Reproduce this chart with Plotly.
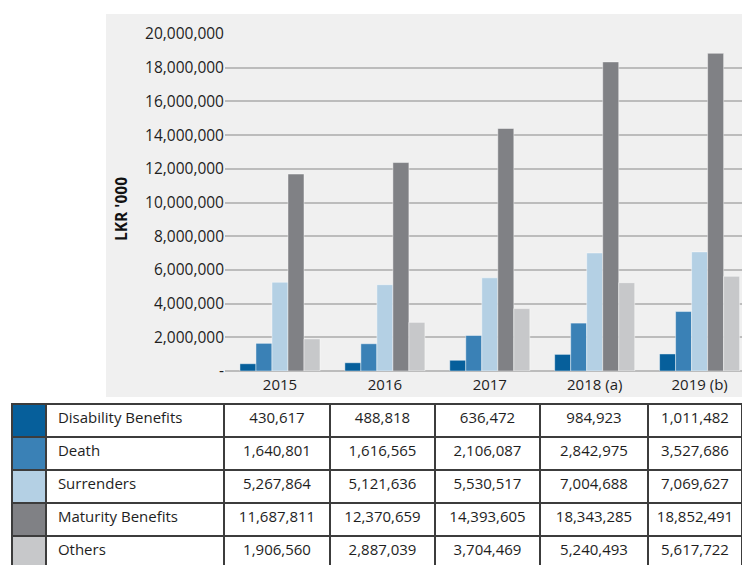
import plotly.graph_objects as go

# Claims paid by type, LKR '000
categories = ["2015", "2016", "2017", "2018 (a)", "2019 (b)"]
series_names = ["Disability Benefits", "Death", "Surrenders", "Maturity Benefits", "Others"]
disability = [430617, 488818, 636472, 984923, 1011482]
death = [1640801, 1616565, 2106087, 2842975, 3527686]
surrenders = [5267864, 5121636, 5530517, 7004688, 7069627]
maturity = [11687811, 12370659, 14393605, 18343285, 18852491]
others = [1906560, 2887039, 3704469, 5240493, 5617722]

y_tickvals = [0, 2000000, 4000000, 6000000, 8000000, 10000000,
              12000000, 14000000, 16000000, 18000000, 20000000]
y_ticktext = ["-", "2,000,000", "4,000,000", "6,000,000", "8,000,000", "10,000,000",
              "12,000,000", "14,000,000", "16,000,000", "18,000,000", "20,000,000"]

colors = ["#065f9b", "#3a81b6", "#b4d0e4", "#808185", "#c7c8ca"]
series = [disability, death, surrenders, maturity, others]

W, H = 742, 565
FONT = "Open Sans"
TEXT = "#1e1e1e"

fig = go.Figure()

for name, vals, col in zip(series_names, series, colors):
    fig.add_trace(go.Bar(
        x=categories, y=vals, name=name,
        marker=dict(color=col, line=dict(color="rgba(255,255,255,0.55)", width=0.8)),
        showlegend=False, hoverinfo="x+y+name",
    ))

# Data table below the chart: the first row is carried by the header
swatch_col = [c for c in colors]
label_col = [" " + n for n in series_names]
year_cols = [[f"{s[i]:,}" for s in series] for i in range(len(categories))]

header_vals = [[""], [label_col[0]]] + [[c[0]] for c in year_cols]
cell_vals = [[""] * 4, label_col[1:]] + [c[1:] for c in year_cols]

header_fill = [colors[0]] + ["white"] * (1 + len(categories))
cell_fill = [colors[1:]] + [["white"] * 4 for _ in range(1 + len(categories))]

aligns = ["left", "left"] + ["center"] * len(categories)

fig.add_trace(go.Table(
    domain=dict(x=[12 / W, 1], y=[0, (H - 404) / H]),
    columnwidth=[34, 178, 106, 105, 105, 108, 94],
    header=dict(values=header_vals, fill=dict(color=header_fill),
                line=dict(color="#3c3c3c", width=1.5), align=aligns,
                font=dict(family=FONT, size=15, color=TEXT), height=33),
    cells=dict(values=cell_vals, fill=dict(color=cell_fill),
               line=dict(color="#3c3c3c", width=1.5), align=aligns,
               font=dict(family=FONT, size=15, color=TEXT), height=33),
))

fig.update_layout(
    width=W, height=H,
    margin=dict(l=0, r=0, t=0, b=0, autoexpand=False),
    paper_bgcolor="white",
    plot_bgcolor="rgba(0,0,0,0)",
    barmode="group", bargap=0.237, bargroupgap=0,
    font=dict(family=FONT, size=15, color=TEXT),
    xaxis=dict(domain=[225 / W, 1], range=[-0.524, 4.404], type="category",
               automargin=False, ticklabelstandoff=3,
               showgrid=False, showline=False, ticks="", zeroline=False,
               tickfont=dict(size=15, color=TEXT)),
    yaxis=dict(domain=[(H - 371) / H, (H - 34) / H], range=[0, 20000000],
               automargin=False,
               tickvals=y_tickvals, ticktext=y_ticktext, ticks="",
               showgrid=True, gridcolor="#bcbcbc", gridwidth=1.5,
               zeroline=True, zerolinecolor="#bcbcbc", zerolinewidth=1.5,
               showline=False, tickfont=dict(size=15.5, color=TEXT)),
    shapes=[dict(type="rect", xref="paper", yref="paper",
                 x0=106 / W, x1=1, y0=(H - 397) / H, y1=(H - 14) / H,
                 fillcolor="#f0f0f0", line=dict(width=0), layer="below")],
    annotations=[dict(text="<b>LKR '000</b>", xref="paper", yref="paper",
                      x=121 / W, y=(H - 209) / H, textangle=-90, showarrow=False,
                      font=dict(family=FONT, size=15.5, color="#111111"),
                      xanchor="center", yanchor="middle")],
)

fig.write_html("out.html")
